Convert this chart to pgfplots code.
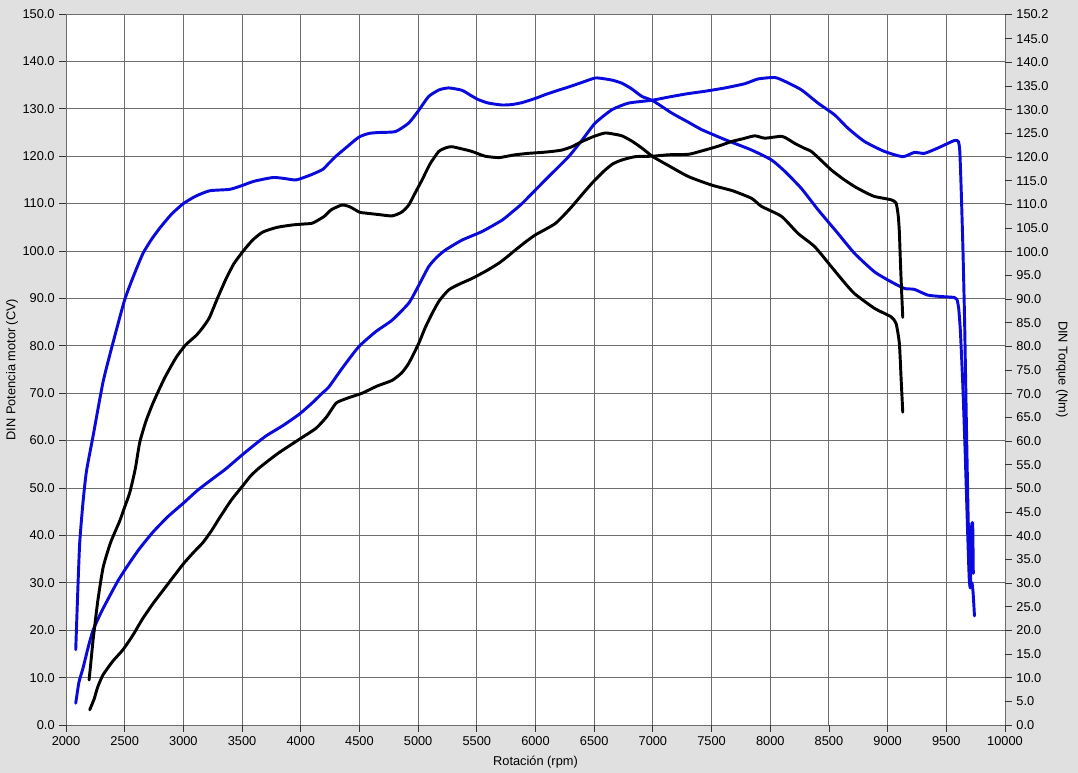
\documentclass[border=0pt]{standalone}
\usepackage{fontspec}
\setmainfont{Liberation Sans}
\usepackage{pgfplots}
\pgfplotsset{compat=1.18}

\definecolor{bggray}{RGB}{224,224,224}
\definecolor{gridgray}{RGB}{110,110,110}
\definecolor{dynoblue}{RGB}{10,10,220}

% units: 1 px of the reference = 0.75pt
\begin{document}
\begin{tikzpicture}
\fill[bggray] (-49.5pt,-36pt) rectangle (759pt,543.75pt);

\pgfplotsset{
  every axis/.append style={
    font=\fontsize{9.6}{11}\selectfont,
    scale only axis,
    width=704.25pt, height=533.25pt,
    at={(0,0)}, anchor=south west,
    xmin=2000, xmax=10000,
    axis line style={draw=none},
    tick align=outside,
    major tick length=5pt,
    tick style={black!80, line width=0.6pt},
    /pgf/number format/assume math mode=true,
  },
}

\begin{axis}[
    ymin=0, ymax=150,
    axis background/.style={fill=white},
    xtick={2000,2500,...,10000},
    ytick={0,10,...,150},
    scaled x ticks=false,
    xticklabel style={/pgf/number format/.cd, fixed, 1000 sep={}},
    yticklabel style={/pgf/number format/.cd, fixed, fixed zerofill, precision=1},
    grid=major,
    grid style={gridgray, line width=0.7pt},
    xtick pos=bottom, ytick pos=left,
    xlabel={Rotación (rpm)},
    ylabel={DIN Potencia motor (CV)},
    xlabel style={at={(axis description cs:0.5,-0.052)}, anchor=center},
    ylabel style={at={(axis description cs:-0.0575,0.5)}, anchor=center},
    every axis plot/.append style={line width=2.2pt, line join=round, line cap=round, smooth, tension=0.35},
]

% blue, upper in the low rpm range
\addplot[dynoblue] coordinates {
(2083,15.9) (2100,28) (2117,38.5) (2145,47) (2174,53.5) (2231,61) (2316,72.4)
(2401,80.7) (2500,89.7) (2580,95) (2656,99.5) (2730,102.5) (2798,104.8)
(2900,107.8) (3000,110) (3100,111.5) (3223,112.7) (3393,113) (3500,113.8)
(3600,114.7) (3762,115.5) (3860,115.3) (3960,115) (4080,116) (4187,117.2)
(4239,118.5) (4300,120) (4386,121.8) (4494,124) (4580,124.8) (4665,125)
(4807,125.2) (4920,127) (5000,129.5) (5090,132.6) (5180,134) (5261,134.4)
(5374,133.9) (5450,132.8) (5516,131.9) (5600,131.2) (5715,130.8) (5800,130.9)
(5885,131.3) (6000,132.2) (6084,133) (6180,133.8) (6282,134.6) (6400,135.6)
(6509,136.5) (6594,136.3) (6660,136) (6736,135.4) (6820,134.2) (6907,132.6)
(7000,131.7) (7161,129.1) (7300,127.2) (7416,125.6) (7614,123.5) (7841,121.3)
(8011,119.2) (8124,116.8) (8265,113.2) (8407,108.7) (8577,103.7) (8718,99.5)
(8888,95.6) (9030,93.5) (9143,92.1) (9228,91.9) (9341,90.7) (9454,90.4)
(9568,90.2) (9590,89.8) (9605,88) (9620,83) (9640,72) (9660,58) (9680,42)
(9695,31) (9705,29) (9718,30) (9728,28) (9740,23)
};

% blue, lower in the low rpm range
\addplot[dynoblue] coordinates {
(2083,4.6) (2110,9) (2145,12) (2190,16.5) (2231,20) (2300,23.8) (2372,27.2)
(2440,30.3) (2514,33.2) (2620,37) (2741,40.7) (2870,44) (3000,46.8)
(3120,49.5) (3252,52) (3360,54) (3478,56.5) (3590,58.8) (3705,61) (3850,63.2)
(3989,65.6) (4100,68) (4187,70.1) (4239,71.3) (4360,75.5) (4494,79.8)
(4640,83) (4778,85.4) (4920,89) (5000,92.5) (5090,96.7) (5160,98.7)
(5232,100.2) (5374,102.3) (5544,104.1) (5715,106.5) (5800,108.2) (5885,110)
(6084,115) (6282,119.9) (6400,123.5) (6509,127) (6651,129.8) (6793,131.2)
(6992,131.8) (7161,132.6) (7300,133.2) (7444,133.7) (7614,134.4) (7784,135.3)
(7897,136.3) (8039,136.6) (8124,135.8) (8265,134) (8407,131.2) (8549,128.7)
(8662,125.9) (8803,123.1) (8973,121) (9129,119.9) (9228,120.8) (9313,120.6)
(9426,121.7) (9568,123.3) (9602,123.1) (9615,121) (9628,112) (9642,100)
(9656,85) (9670,65) (9685,45) (9697,33) (9705,29) (9712,40) (9718,42.5)
(9725,42) (9730,32)
};

% black, upper in the low rpm range
\addplot[black] coordinates {
(2197,9.5) (2215,14) (2231,18) (2270,26) (2316,33.2) (2380,38.5) (2457,43)
(2500,46) (2543,49) (2590,54) (2628,59.6) (2680,64) (2741,67.9) (2840,73.2)
(2940,77.6) (3020,80.2) (3110,82.2) (3170,84) (3223,86) (3290,90) (3365,94.2)
(3430,97.3) (3507,99.9) (3590,102.3) (3677,104) (3800,105) (3932,105.5)
(4030,105.7) (4102,105.9) (4200,107.3) (4260,108.7) (4352,109.7) (4420,109.3)
(4499,108.2) (4551,108) (4660,107.7) (4778,107.4) (4860,108.2) (4920,109.7)
(4980,112.5) (5034,115) (5100,118.3) (5176,121) (5240,121.8) (5289,122)
(5380,121.5) (5459,121) (5570,120) (5686,119.7) (5760,120) (5828,120.3)
(5940,120.6) (6055,120.8) (6140,121) (6225,121.3) (6310,122) (6396,123.1)
(6500,124.2) (6594,124.9) (6680,124.6) (6736,124.3) (6820,123.2) (6907,121.7)
(7000,119.9) (7134,118) (7303,115.7) (7501,113.9) (7680,112.7) (7841,111.1)
(7926,109.4) (8096,107.3) (8237,103.7) (8379,100.9) (8520,96.7) (8620,93.7)
(8718,91) (8888,87.9) (9030,86.1) (9072,84.7) (9100,80.5) (9115,73) (9129,66)
};

% black, lower in the low rpm range
\addplot[black] coordinates {
(2202,3.2) (2240,5.5) (2270,8) (2316,10.6) (2400,13.5) (2486,15.9) (2571,19)
(2650,22.3) (2741,25.6) (2870,29.8) (3000,34) (3090,36.5) (3167,38.5)
(3240,41) (3308,43.7) (3410,47.5) (3507,50.5) (3575,52.6) (3649,54.3)
(3800,57.2) (3989,60.3) (4130,62.6) (4220,65) (4301,67.9) (4381,68.8)
(4450,69.4) (4523,70) (4650,71.5) (4778,72.7) (4860,74.3) (4920,76.3)
(5005,80.5) (5060,83.8) (5119,86.8) (5180,89.5) (5261,91.8) (5350,93)
(5459,94.2) (5580,95.8) (5686,97.4) (5760,98.8) (5828,100.2) (5920,102)
(5999,103.4) (6080,104.5) (6169,105.8) (6240,107.5) (6311,109.4) (6400,112)
(6481,114.3) (6540,115.8) (6594,117.1) (6660,118.4) (6736,119.2) (6850,119.9)
(7000,120) (7134,120.3) (7303,120.4) (7400,121) (7501,121.7) (7580,122.3)
(7671,123.1) (7770,123.7) (7869,124.3) (7954,123.8) (8096,124.2) (8150,123.6)
(8209,122.7) (8280,121.8) (8350,121) (8430,119.2) (8520,117.1) (8620,115.2)
(8718,113.6) (8800,112.5) (8888,111.5) (9030,110.8) (9072,110.1) (9090,107.5)
(9100,104) (9110,97) (9120,91) (9129,86)
};
\end{axis}

% right-hand torque scale
\begin{axis}[
    ymin=0, ymax=150.2,
    hide x axis,
    axis y line*=right,
    ytick={0,5,...,145,150.2},
    yticklabel style={/pgf/number format/.cd, fixed, fixed zerofill, precision=1},
    ylabel={DIN Torque (Nm)},
    ylabel style={at={(axis description cs:1.0607,0.5)}, anchor=center, rotate=180},
]
\end{axis}

\pgfresetboundingbox
\path (-49.5pt,-36pt) rectangle (759pt,543.75pt);
\end{tikzpicture}
\end{document}
